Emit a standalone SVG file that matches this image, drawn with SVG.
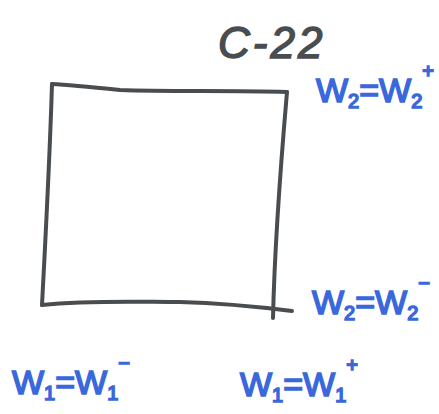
<svg xmlns="http://www.w3.org/2000/svg" width="439" height="414" viewBox="0 0 439 414">
<style>
.box{fill:none;stroke:#4a4d50;stroke-width:4;stroke-linecap:round;stroke-linejoin:round}
.lbl{font-family:"Liberation Sans",Arial,sans-serif;font-size:34px;fill:#3a68dc;stroke:#3a68dc;stroke-width:1.6}
.sub{font-size:20px}
.title{font-family:"Liberation Sans",Arial,sans-serif;font-size:44px;fill:#4a4d50;stroke:#4a4d50;stroke-width:1.5;font-style:italic;letter-spacing:3px}
</style>
<rect width="439" height="414" fill="#fff"/>
<g id="square">
<path class="box" d="M52,84 C70,85 90,87 120,90 C170,92 230,90 287,92"/>
<path class="box" d="M52,84 C50,150 46,230 42,305"/>
<path class="box" d="M287,92 C282,150 275,230 273,318"/>
<path class="box" d="M42,305 C90,300 140,302 180,302 C220,303 260,307 292,311"/>
</g>
<g id="title"><text class="title" x="218" y="58">C-22</text></g>
<g id="w2plus"><text class="lbl" x="316" y="102">W<tspan class="sub" dy="6">2</tspan><tspan dy="-6">=W</tspan><tspan class="sub" dy="6">2</tspan><tspan class="sub" dy="-30">+</tspan></text></g>
<g id="w2minus"><text class="lbl" x="312" y="314">W<tspan class="sub" dy="6">2</tspan><tspan dy="-6">=W</tspan><tspan class="sub" dy="6">2</tspan><tspan class="sub" dy="-30">−</tspan></text></g>
<g id="w1minus"><text class="lbl" x="12" y="394">W<tspan class="sub" dy="6">1</tspan><tspan dy="-6">=W</tspan><tspan class="sub" dy="6">1</tspan><tspan class="sub" dy="-30">−</tspan></text></g>
<g id="w1plus"><text class="lbl" x="240" y="396">W<tspan class="sub" dy="6">1</tspan><tspan dy="-6">=W</tspan><tspan class="sub" dy="6">1</tspan><tspan class="sub" dy="-30">+</tspan></text></g>
</svg>
